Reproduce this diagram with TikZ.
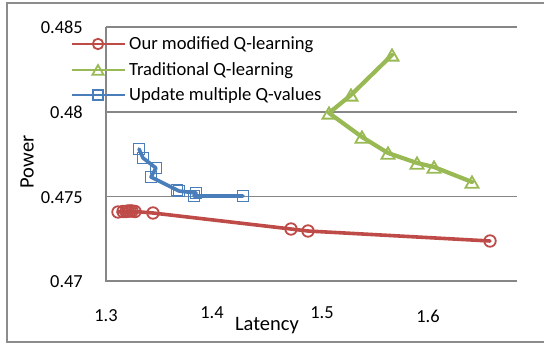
\documentclass[tikz,border=0pt]{standalone}
\usepackage{fontspec}
\setmainfont{Carlito}
\usetikzlibrary{shapes.geometric}
\definecolor{serred}{HTML}{BE4B48}
\definecolor{sergreen}{HTML}{98B954}
\definecolor{serblue}{HTML}{4A7EBB}
\definecolor{gridgray}{HTML}{868686}
\definecolor{framegray}{HTML}{8C8C8C}
\begin{document}
\begin{tikzpicture}[x=1pt,y=-1pt,
  frameline/.style={draw=framegray, line width=2pt},
  gridline/.style={draw=gridgray, line width=1.3pt},
  ticklbl/.style={font=\fontsize{18.4}{20}\selectfont, inner sep=0pt},
  axtitle/.style={font=\fontsize{20.5}{22}\selectfont, inner sep=0pt},
  legtxt/.style={font=\fontsize{18.6}{20}\selectfont, inner sep=0pt, anchor=base west},
  serline/.style={line width=3.6pt, line join=round, line cap=round},
  legline/.style={line width=2.4pt},
  redmk/.style={circle, draw=serred, line width=1.8pt, minimum size=11.5pt, inner sep=0pt, outer sep=0pt},
  grnmk/.style={regular polygon, regular polygon sides=3, draw=sergreen, line width=1.8pt, minimum size=15pt, inner sep=0pt, outer sep=0pt, yshift=-1.9pt},
  blumk/.style={rectangle, draw=serblue, line width=1.8pt, minimum size=11pt, inner sep=0pt, outer sep=0pt}
]
\useasboundingbox (0,0) rectangle (544,345);

% outer chart frame (right edge lies beyond the page)
\draw[frameline] (560,3) -- (7,3) -- (7,342) -- (560,342);

% plot area: gridlines and axes
\coordinate (origin) at (106,281);
\coordinate (xend) at (517,281);
\coordinate (ytop) at (106,27);
\draw[gridline] (106,27) -- (517,27);
\draw[gridline] (106,112) -- (517,112);
\draw[gridline] (106,196.5) -- (517,196.5);
\draw[gridline] (ytop) -- (origin) -- (xend);

% value axis labels
\node[ticklbl, anchor=base east] (y485) at (83,33.3) {0.485};
\node[ticklbl, anchor=base east] (y480) at (83,118.5) {0.48};
\node[ticklbl, anchor=base east] (y475) at (83,203) {0.475};
\node[ticklbl, anchor=base east] (y470) at (83,287.5) {0.47};

% category axis labels
\node[ticklbl, anchor=base] (x13) at (106,321.5) {1.3};
\node[ticklbl, anchor=base] (x14) at (212,318.5) {1.4};
\node[ticklbl, anchor=base] (x15) at (322,318.5) {1.5};
\node[ticklbl, anchor=base] (x16) at (428,322) {1.6};

% axis titles
\node[axtitle, anchor=base] (xtitle) at (267,330.5) {Latency};
\node[axtitle, anchor=base, rotate=90] (ytitle) at (33.5,162) {Power};

% data points
\coordinate (r1) at (118,212);
\coordinate (r2) at (123,211.5);
\coordinate (r3) at (126,211.5);
\coordinate (r4) at (128,211);
\coordinate (r5) at (130,211);
\coordinate (r6) at (132,211);
\coordinate (r7) at (135,211.5);
\coordinate (r8) at (153,213);
\coordinate (r9) at (291,229);
\coordinate (r10) at (308,231);
\coordinate (r11) at (490,241);

\coordinate (g1) at (392,55);
\coordinate (g2) at (351,95);
\coordinate (g3) at (329,113);
\coordinate (g4) at (362,137);
\coordinate (g5) at (388,153);
\coordinate (g6) at (417,163);
\coordinate (g7) at (434,167);
\coordinate (g8) at (472,182);

\coordinate (b1) at (139,149);
\coordinate (b2) at (143,158);
\coordinate (b3) at (156,168);
\coordinate (b4) at (151,177);
\coordinate (b5) at (177,190);
\coordinate (b6) at (179,191);
\coordinate (b7) at (196,193);
\coordinate (b8) at (194,196);
\coordinate (b9) at (243,196);

% series lines
\draw[serline, serred] (r1) -- (r2) -- (r3) -- (r4) -- (r5) -- (r6) -- (r7) -- (r8) -- (r9) -- (r10) -- (r11);
\draw[serline, sergreen, line width=4.2pt] (g1) -- (g2) -- (g3) -- (g4) -- (g5) -- (g6) -- (g7) -- (g8);
\draw[serline, serblue] (b1) -- (b2) -- (b3) -- (b4) -- (b5) -- (b6) -- (b7) -- (b8) -- (b9);

% series markers
\foreach \p in {r1,r2,r3,r4,r5,r6,r7,r8,r9,r10,r11} \node[redmk] (m\p) at (\p) {};
\foreach \p in {g1,g2,g3,g4,g5,g6,g7,g8} \node[grnmk] (m\p) at (\p) {};
\foreach \p in {b1,b2,b3,b4,b5,b6,b7,b8,b9} \node[blumk] (m\p) at (\p) {};

% legend
\coordinate (la1) at (72,44);  \coordinate (lb1) at (125,44);
\coordinate (la2) at (72,70);  \coordinate (lb2) at (125,70);
\coordinate (la3) at (72,95);  \coordinate (lb3) at (125,95);
\draw[legline, serred] (la1) -- (lb1);
\draw[legline, sergreen] (la2) -- (lb2);
\draw[legline, serblue] (la3) -- (lb3);
\node[redmk, minimum size=10.5pt] (lm1) at (98,44) {};
\node[grnmk, minimum size=13pt, yshift=0.3pt] (lm2) at (98,70) {};
\node[blumk, minimum size=10pt] (lm3) at (98,95) {};
\node[legtxt] (lt1) at (129,49.5) {Our modified Q-learning};
\node[legtxt] (lt2) at (129,75.5) {Traditional Q-learning};
\node[legtxt] (lt3) at (129,100.7) {Update multiple Q-values};
\end{tikzpicture}
\end{document}
